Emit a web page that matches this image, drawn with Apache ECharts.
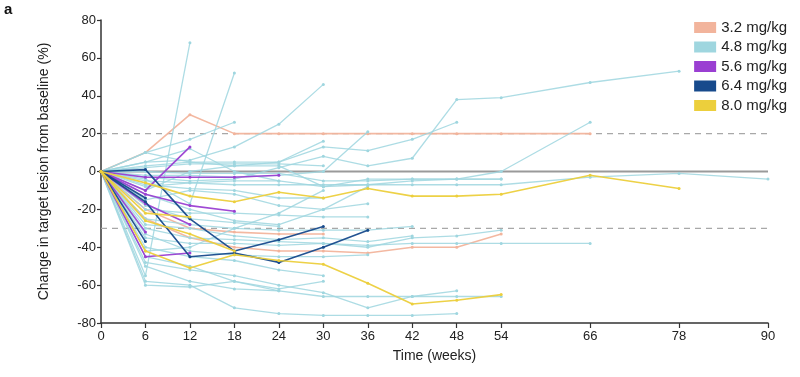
<!DOCTYPE html>
<html>
<head>
<meta charset="utf-8">
<script src="https://cdn.jsdelivr.net/npm/echarts@6/dist/echarts.min.js"></script>
<style>
html, body { margin: 0; padding: 0; background: #fff; }
#main { width: 800px; height: 377px; }
</style>
</head>
<body>
<div id="main"></div>
<script>
var doses = ['3.2 mg/kg', '4.8 mg/kg', '5.6 mg/kg', '6.4 mg/kg', '8.0 mg/kg'];
var doseColors = ['#f2b49c', '#9fd6df', '#9a3fd2', '#174a8c', '#eccf3c'];
var weekTicks = [0, 6, 12, 18, 24, 30, 36, 42, 48, 54, 66, 78, 90];
var refLevels = [20, -30];
var zeroLevel = 0;

// each patient: [week, % change]
var dose32 = [
    [[0,0],[6,10],[12,30],[18,20],[24,20],[30,20],[36,20],[42,20],[48,20],[54,20],[66,20]],
    [[0,0],[6,-20],[12,-30],[18,-32],[24,-33],[30,-33]],
    [[0,0],[6,-25],[12,-35],[18,-40],[24,-42],[30,-42],[36,-43],[42,-40],[48,-40],[54,-33]]
];
var dose48 = [
    [[0,0],[6,-55],[12,68]],
    [[0,0],[6,-4],[12,-17],[18,52]],
    [[0,0],[6,10],[12,17],[18,26]],
    [[0,0],[6,5],[12,6],[18,13],[24,25],[30,46]],
    [[0,0],[6,-2],[12,-2],[18,-3],[24,-2],[30,0],[36,21]],
    [[0,0],[6,3],[12,5],[18,5],[24,5],[30,13],[36,11],[42,17],[48,26]],
    [[0,0],[6,-3],[12,-5],[18,-4],[24,2],[30,8],[36,3],[42,7],[48,38],[54,39],[66,47],[78,53]],
    [[0,0],[6,-8],[12,-6],[18,-5],[24,-5],[30,-8],[36,-7],[42,-5],[48,-4],[54,0],[66,26]],
    [[0,0],[6,-5],[12,-6],[18,-7],[24,-7],[30,-7],[36,-7],[42,-7],[48,-7],[54,-7],[66,-3],[78,-1],[90,-4]],
    [[0,0],[6,10],[12,5],[18,3],[24,5],[30,16]],
    [[0,0],[6,-10],[12,0],[18,3],[24,3],[30,-8],[36,-4],[42,-4],[48,-4],[54,-4]],
    [[0,0],[6,-20],[12,-22],[18,-22],[24,-23],[30,-24],[36,-24]],
    [[0,0],[6,-25],[12,-28],[18,-30],[24,-31],[30,-31],[36,-31],[42,-29]],
    [[0,0],[6,-30],[12,-35],[18,-36],[24,-37],[30,-38],[36,-40],[42,-35],[48,-34],[54,-31]],
    [[0,0],[6,-35],[12,-38],[18,-38],[24,-39],[30,-38],[36,-39],[42,-38],[48,-38],[54,-38],[66,-38]],
    [[0,0],[6,-58],[12,-60],[18,-72],[24,-75],[30,-76],[36,-76],[42,-76],[48,-75]],
    [[0,0],[6,-60],[12,-61],[18,-58],[24,-62],[30,-58]],
    [[0,0],[6,-48],[12,-52],[18,-55],[24,-60],[30,-64],[36,-72],[42,-66],[48,-63]],
    [[0,0],[6,-45],[12,-50],[18,-58],[24,-63],[30,-66],[36,-66],[42,-66],[48,-66],[54,-66]],
    [[0,0],[6,-40],[12,-45],[18,-47],[24,-52],[30,-55]],
    [[0,0],[6,-15],[12,-10],[18,-12],[24,-18],[30,-20],[36,-17]],
    [[0,0],[6,0],[12,-1],[18,-1],[24,-1],[30,-5],[36,-5],[42,-4],[48,-4],[54,-4]],
    [[0,0],[6,-12],[12,-20],[18,-26],[24,-28],[30,-20],[36,-8]],
    [[0,0],[6,-28],[12,-30],[18,-34],[24,-36],[30,-35],[36,-37],[42,-34]],
    [[0,0],[6,-50],[12,-58],[18,-62],[24,-63]],
    [[0,0],[6,5],[12,12],[18,0],[24,-5]],
    [[0,0],[6,-18],[12,-25],[18,-27],[24,-29]],
    [[0,0],[6,-7],[12,-9],[18,-10],[24,-14],[30,-14]],
    [[0,0],[6,-42],[12,-40],[18,-30],[24,-22],[30,-10]],
    [[0,0],[6,2],[12,4],[18,4],[24,4],[30,3]],
    [[0,0],[6,-33],[12,-42],[18,-44],[24,-45],[30,-45],[36,-44]]
];
var dose56 = [
    [[0,0],[6,-10],[12,13]],
    [[0,0],[6,-3],[12,-3],[18,-3],[24,-2]],
    [[0,0],[6,-12],[12,-18],[18,-21]],
    [[0,0],[6,-45],[12,-43]],
    [[0,0],[6,-17],[12,-28]],
    [[0,0],[6,-32]]
];
var dose64 = [
    [[0,0],[6,1],[12,-25],[18,-42],[24,-36],[30,-29]],
    [[0,0],[6,-16],[12,-45],[18,-43],[24,-48],[30,-40],[36,-31]],
    [[0,0],[6,-37]],
    [[0,0],[6,-14]]
];
var dose80 = [
    [[0,0],[6,-6],[12,-13],[18,-16],[24,-11],[30,-14],[36,-9],[42,-13],[48,-13],[54,-12],[66,-2],[78,-9]],
    [[0,0],[6,-42],[12,-51],[18,-44],[24,-47],[30,-49],[36,-59],[42,-70],[48,-68],[54,-65]],
    [[0,0],[6,-26],[12,-33],[18,-42]],
    [[0,0],[6,-22],[12,-24]]
];

var groups = [dose32, dose48, dose56, dose64, dose80];
var drawOrder = [1, 0, 2, 4, 3];

var series = [];
// reference lines
series.push({
    type: 'line', name: 'zero', silent: true, symbol: 'none', z: 1,
    data: [[0, zeroLevel], [90, zeroLevel]],
    lineStyle: { color: '#9a9a9a', width: 2 }
});
refLevels.forEach(function (lv) {
    series.push({
        type: 'line', name: 'ref' + lv, silent: true, symbol: 'none', z: 1,
        data: [[0, lv], [90, lv]],
        lineStyle: { color: '#a8a8a8', width: 1.2, type: [6, 5] }
    });
});

drawOrder.forEach(function (g) {
    groups[g].forEach(function (track) {
        series.push({
            type: 'line',
            name: doses[g],
            data: track,
            color: doseColors[g],
            symbol: 'circle',
            symbolSize: 3,
            z: 2 + g,
            lineStyle: { width: g == 1 ? 1.3 : 1.6, opacity: g == 1 ? 0.85 : 0.95 },
            itemStyle: { color: doseColors[g] },
            emphasis: { disabled: true },
            animation: false
        });
    });
});

var chart = echarts.init(document.getElementById('main'));
chart.setOption({
    animation: false,
    grid: { left: 101, right: 32, top: 20, bottom: 54 },
    legend: {
        data: doses,
        orient: 'vertical',
        right: 8,
        top: 15,
        icon: 'rect',
        itemWidth: 22,
        itemHeight: 11,
        itemGap: 4.5,
        textStyle: { fontFamily: 'Liberation Sans, Arial, sans-serif', fontSize: 15, color: '#222' }
    },
    graphic: [{
        type: 'text', left: 4, top: 2,
        style: { text: 'a', font: 'bold 15px Liberation Sans, Arial, sans-serif', fill: '#111' }
    }],
    xAxis: {
        type: 'value',
        min: 0, max: 90,
        name: 'Time (weeks)',
        nameLocation: 'middle',
        nameGap: 26,
        nameTextStyle: { fontFamily: 'Liberation Sans Narrow, Liberation Sans, Arial, sans-serif', fontSize: 14, color: '#222' },
        splitLine: { show: false },
        axisLine: { onZero: false, lineStyle: { color: '#333', width: 1.5 } },
        axisTick: { customValues: weekTicks, length: 5, lineStyle: { color: '#333', width: 1.2 } },
        axisLabel: {
            customValues: weekTicks, margin: 7,
            fontFamily: 'Liberation Sans Narrow, Liberation Sans, Arial, sans-serif', fontSize: 13, color: '#222'
        }
    },
    yAxis: {
        type: 'value',
        min: -80, max: 80, interval: 20,
        name: 'Change in target lesion from baseline (%)',
        nameLocation: 'middle',
        nameGap: 50,
        nameTextStyle: { fontFamily: 'Liberation Sans, Arial, sans-serif', fontSize: 14, color: '#222' },
        splitLine: { show: false },
        axisLine: { show: true, lineStyle: { color: '#333', width: 1.5 } },
        axisTick: { show: true, length: 4, lineStyle: { color: '#333', width: 1.2 } },
        axisLabel: {
            margin: 5,
            fontFamily: 'Liberation Sans Narrow, Liberation Sans, Arial, sans-serif', fontSize: 13, color: '#222'
        }
    },
    series: series
});
</script>
</body>
</html>
